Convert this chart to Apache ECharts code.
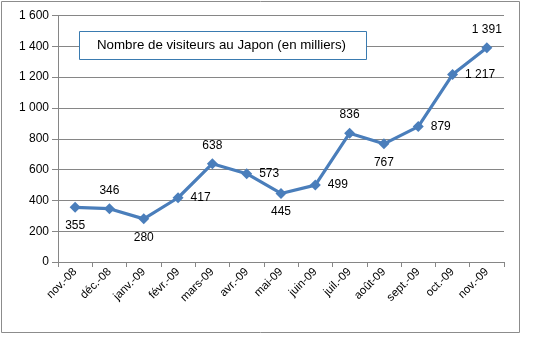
<!DOCTYPE html>
<html><head><meta charset="utf-8">
<script src="https://cdn.jsdelivr.net/npm/echarts@6/dist/echarts.min.js"></script>
<style>html,body{margin:0;padding:0;background:#fff}#c{width:537px;height:351px}</style>
</head><body><div id="c"></div>
<script>
var categories = ['nov.-08','déc.-08','janv.-09','févr.-09','mars-09','avr.-09','mai-09','juin-09','juil.-09','août-09','sept.-09','oct.-09','nov.-09'];
var visitors = [355, 346, 280, 417, 638, 573, 445, 499, 836, 767, 879, 1217, 1391];
var labelPos = ['bottom','top','bottom','right','top','right','bottom','right','top','bottom','right','right','top'];
var yTicks = [0, 200, 400, 600, 800, 1000, 1200, 1400, 1600];
var titleText = 'Nombre de visiteurs au Japon (en milliers)';

function fmt(v){ var s=String(v); return s.length>3 ? s.slice(0,s.length-3)+' '+s.slice(-3) : s; }

var chart = echarts.init(document.getElementById('c'));
var font = 'Liberation Sans';
chart.setOption({
  animation:false,
  textStyle:{fontFamily:font},
  graphic:[{type:'rect',shape:{x:1.5,y:1.5,width:518,height:331},style:{fill:'none',stroke:'#8c8c8c',lineWidth:1},z:-1}],
  title:{text:titleText,left:79,top:31,padding:[8,21,8,18],borderWidth:1,borderColor:'#3a7bb0',backgroundColor:'#fff',
    textStyle:{fontFamily:font,fontSize:13.3,fontWeight:'normal',color:'#000'}},
  grid:{left:58,right:33,top:15.5,bottom:89},
  xAxis:{type:'category',data:categories,boundaryGap:true,
    axisLine:{lineStyle:{color:'#868686'}},
    axisTick:{show:true,length:5,lineStyle:{color:'#868686'}},
    axisLabel:{rotate:45,fontSize:11.5,color:'#000',margin:8,interval:0,fontFamily:font}},
  yAxis:{type:'value',min:yTicks[0],max:yTicks[yTicks.length-1],interval:200,
    axisLine:{show:true,lineStyle:{color:'#868686'}},
    axisTick:{show:true,length:6,lineStyle:{color:'#868686'}},
    splitLine:{lineStyle:{color:'#868686'}},
    axisLabel:{fontSize:12,color:'#000',margin:9,formatter:function(v){return fmt(v);},fontFamily:font}},
  series:[{type:'line',
    data:visitors.map(function(v,i){return {value:v,label:{position:labelPos[i]}};}),
    symbol:'diamond',symbolSize:11,
    lineStyle:{color:'#4a7ebb',width:3.2},
    itemStyle:{color:'#4a7ebb'},
    label:{show:true,fontSize:12,color:'#000',distance:7,formatter:function(p){return fmt(p.value);},fontFamily:font}
  }]
});
</script></body></html>
